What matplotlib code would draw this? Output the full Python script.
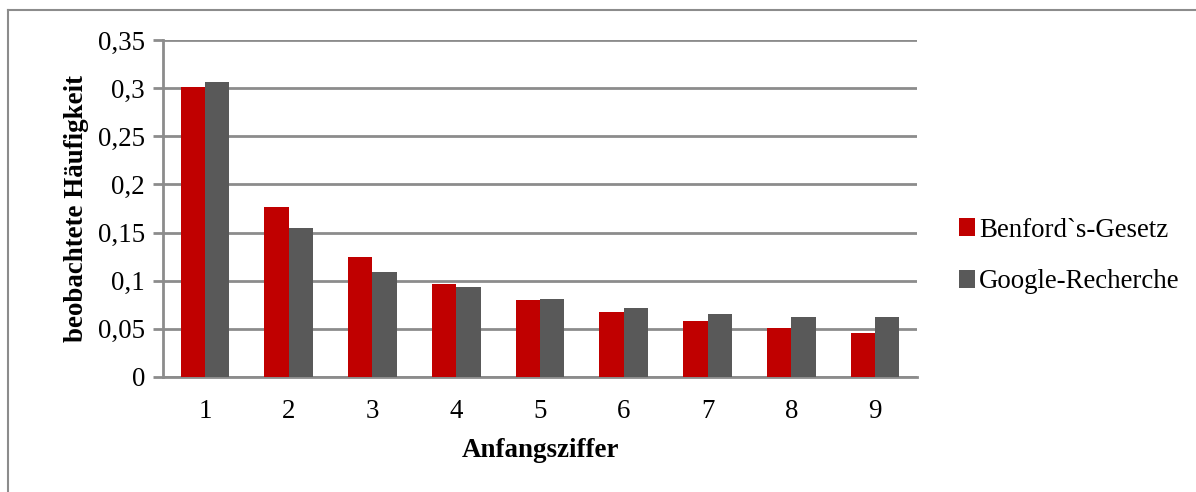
import matplotlib
matplotlib.use("Agg")
import matplotlib.pyplot as plt
import numpy as np
from matplotlib.lines import Line2D

categories = ["1", "2", "3", "4", "5", "6", "7", "8", "9"]
benford = [0.301, 0.177, 0.125, 0.097, 0.080, 0.067, 0.058, 0.051, 0.046]
google = [0.306, 0.155, 0.109, 0.093, 0.081, 0.072, 0.065, 0.062, 0.062]
yticks = [0, 0.05, 0.1, 0.15, 0.2, 0.25, 0.3, 0.35]
ytick_labels = ["0", "0,05", "0,1", "0,15", "0,2", "0,25", "0,3", "0,35"]

plt.rcParams['font.family'] = ['Liberation Serif', 'DejaVu Serif']
FS = 19.4

fig = plt.figure(figsize=(11.96, 4.92), dpi=100)
ax = fig.add_axes([163/1196, 1-377/492, (917-163)/1196, (377-40)/492])

x = np.arange(len(categories))
w = 0.29
grid_c = "#8c8c8c"
ax.bar(x - w/2, benford, w, color="#c00000", label="Benford`s-Gesetz", zorder=3)
ax.bar(x + w/2, google, w, color="#595959", label="Google-Recherche", zorder=3)

ax.set_xlim(-0.5, len(categories) - 0.5)
ax.set_ylim(0, 0.35)
ax.set_yticks(yticks)
ax.set_yticklabels(ytick_labels, fontsize=FS)
ax.set_xticks(x)
ax.set_xticklabels(categories, fontsize=FS)
ax.tick_params(axis='x', length=0, pad=16)
ax.tick_params(axis='y', length=7, width=2, color=grid_c, pad=6)
ax.yaxis.grid(True, color=grid_c, linewidth=2, zorder=0)
ax.set_axisbelow(True)
for s in ["top", "right"]:
    ax.spines[s].set_visible(False)
for s in ["left", "bottom"]:
    ax.spines[s].set_color(grid_c)
    ax.spines[s].set_linewidth(2)

ax.set_xlabel("Anfangsziffer", fontsize=FS, fontweight="bold", labelpad=10)
ax.set_ylabel("beobachtete Häufigkeit", fontsize=FS, fontweight="bold", labelpad=6)

fig.legend(loc="center left", bbox_to_anchor=(948/1196, 1-256/492), frameon=False,
           fontsize=FS, handlelength=0.6, handleheight=0.6, handletextpad=0.15,
           labelspacing=1.0, borderaxespad=0)

# outer frame
fig.add_artist(Line2D([8/1196, 1.0], [1-10/492, 1-10/492], transform=fig.transFigure,
                      color="#8c8c8c", linewidth=1.5))
fig.add_artist(Line2D([8/1196, 8/1196], [0, 1-10/492], transform=fig.transFigure,
                      color="#8c8c8c", linewidth=1.5))

fig.savefig("out.png", dpi=100)
